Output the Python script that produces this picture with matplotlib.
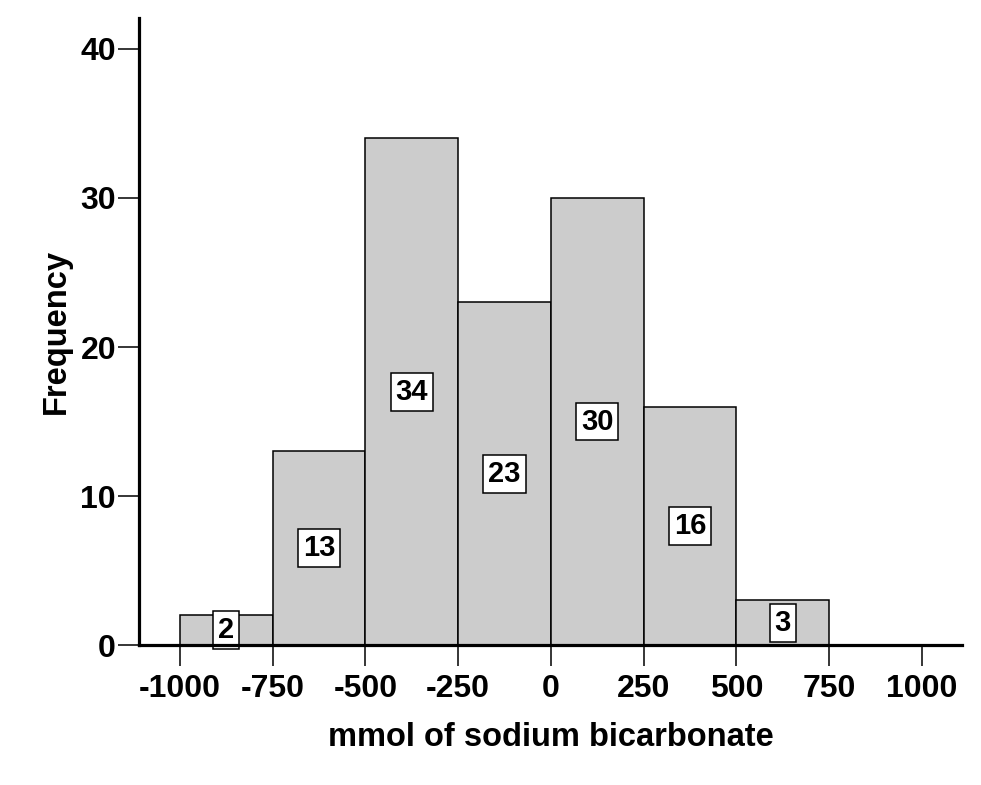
import matplotlib
matplotlib.use("Agg")
import matplotlib.pyplot as plt
import numpy as np

bin_edges = [-1000, -750, -500, -250, 0, 250, 500, 750]
counts = [2, 13, 34, 23, 30, 16, 3]
x_ticks = [-1000, -750, -500, -250, 0, 250, 500, 750, 1000]
y_ticks = [0, 10, 20, 30, 40]
x_label = "mmol of sodium bicarbonate"
y_label = "Frequency"

plt.rcParams['font.family'] = ['Liberation Sans', 'DejaVu Sans']
plt.rcParams['font.weight'] = 'bold'

fig = plt.figure(figsize=(9.81, 7.85), dpi=100)
ax = fig.add_axes([0.1417, 0.1783, 0.9806 - 0.1417, 0.9771 - 0.1783])

lefts = np.array(bin_edges[:-1])
widths = np.diff(bin_edges)
ax.bar(lefts, counts, width=widths, align='edge', color='#cccccc',
       edgecolor='black', linewidth=1.1, zorder=2)

for l, w, c in zip(lefts, widths, counts):
    ax.text(l + w / 2, c / 2, str(c), ha='center', va='center',
            fontsize=21, fontweight='bold', zorder=4,
            bbox=dict(boxstyle='square,pad=0.17', facecolor='white',
                      edgecolor='black', linewidth=1.1))

ax.set_xlim(-1110, 1108)
ax.set_ylim(0, 42.08)
ax.set_xticks(x_ticks)
ax.set_yticks(y_ticks)
ax.set_xticklabels([str(t) for t in x_ticks], fontsize=23, fontweight='bold')
ax.set_yticklabels([str(t) for t in y_ticks], fontsize=23, fontweight='bold')
ax.tick_params(axis='both', direction='out', length=15, width=1.1, pad=1.5)
ax.tick_params(axis='x', pad=6)

for s in ['top', 'right']:
    ax.spines[s].set_visible(False)
for s in ['left', 'bottom']:
    ax.spines[s].set_linewidth(2.3)
    ax.spines[s].set_zorder(5)

ax.set_xlabel(x_label, fontsize=23.5, fontweight='bold', labelpad=13)
ax.set_ylabel(y_label, fontsize=23.5, fontweight='bold', labelpad=6)

fig.savefig("out.png", dpi=100)
